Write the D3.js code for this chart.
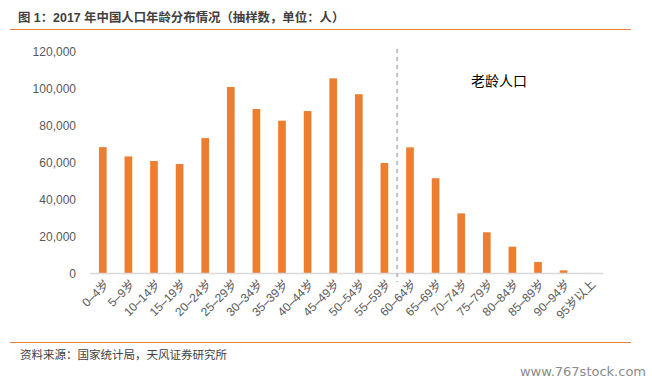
<!DOCTYPE html>
<html>
<head>
<meta charset="utf-8">
<script src="https://cdn.jsdelivr.net/npm/d3@7"></script>
<style>
  body { margin: 0; background: #fff; }
  text { font-family: "Liberation Sans", "Noto Sans CJK SC", sans-serif; }
</style>
</head>
<body>
<svg id="chart" width="652" height="381"></svg>
<script>
// age groups and sample counts (persons)
var ageGroups = ["0–4岁", "5–9岁", "10–14岁", "15–19岁", "20–24岁", "25–29岁", "30–34岁",
  "35–39岁", "40–44岁", "45–49岁", "50–54岁", "55–59岁", "60–64岁", "65–69岁", "70–74岁",
  "75–79岁", "80–84岁", "85–89岁", "90–94岁", "95岁以上"];
var population = [68300, 63300, 60800, 59200, 73200, 100800, 88900, 82600, 87800, 105500,
  96900, 59700, 68200, 51500, 32500, 22300, 14500, 6200, 1700, 300];
var yTicks = [0, 20000, 40000, 60000, 80000, 100000, 120000];
var title = "图 1：2017 年中国人口年龄分布情况（抽样数，单位：人）";
var source = "资料来源：国家统计局，天风证券研究所";
var agedLabel = "老龄人口";
var agedStart = "60–64岁";

var svg = d3.select("#chart");
var orange = "#ED7D31";

var x = d3.scaleBand().domain(ageGroups).range([90, 602]).paddingInner(0.7).paddingOuter(0.35);
var y = d3.scaleLinear().domain([0, 120000]).range([273.5, 51.5]);

// header
svg.append("text")
    .attr("x", 18).attr("y", 22)
    .style("font-size", "12.4px").style("font-weight", "bold")
    .attr("fill", "#3f3f3f")
    .text(title);
svg.append("line")
    .attr("x1", 10).attr("x2", 631).attr("y1", 29.5).attr("y2", 29.5)
    .attr("stroke", orange).attr("stroke-width", 1.2);

// y labels
svg.selectAll(".ylab")
    .data(yTicks)
    .enter().append("text")
    .attr("class", "ylab")
    .attr("x", 76).attr("y", d => y(d))
    .attr("dy", "0.35em")
    .attr("text-anchor", "end")
    .style("font-size", "12px")
    .attr("fill", "#595959")
    .text(d3.format(","));

// bars
svg.selectAll(".bar")
    .data(population)
    .enter().append("rect")
    .attr("class", "bar")
    .attr("x", (d, i) => x(ageGroups[i]))
    .attr("y", d => y(d))
    .attr("width", x.bandwidth())
    .attr("height", d => y(0) - y(d))
    .attr("fill", orange);

// baseline
svg.append("line")
    .attr("x1", 90).attr("x2", 603).attr("y1", y(0)).attr("y2", y(0))
    .attr("stroke", "#d9d9d9").attr("stroke-width", 1.5);

// x labels
svg.selectAll(".xlab")
    .data(ageGroups)
    .enter().append("text")
    .attr("class", "xlab")
    .attr("transform", d => "translate(" + (x(d) + x.bandwidth() / 2 + 4) + ",282) rotate(-45)")
    .attr("text-anchor", "end")
    .attr("dy", "0.35em")
    .style("font-size", "12px")
    .attr("fill", "#595959")
    .text(d => d);

// divider between working age and aged population
var divX = x(agedStart) - (x.step() - x.bandwidth()) / 2;
svg.append("line")
    .attr("x1", divX).attr("x2", divX).attr("y1", 49).attr("y2", 282)
    .attr("stroke", "#bfbfbf").attr("stroke-width", 2)
    .attr("stroke-dasharray", "4,4");

svg.append("text")
    .attr("x", 499).attr("y", 81)
    .attr("dy", "0.35em")
    .attr("text-anchor", "middle")
    .style("font-size", "14px")
    .attr("fill", "#000")
    .text(agedLabel);

// footer
svg.append("line")
    .attr("x1", 10).attr("x2", 631).attr("y1", 342.5).attr("y2", 342.5)
    .attr("stroke", orange).attr("stroke-width", 1.2);
svg.append("text")
    .attr("x", 20).attr("y", 355)
    .attr("dy", "0.35em")
    .style("font-size", "11.5px")
    .attr("fill", "#404040")
    .text(source);
svg.append("text")
    .attr("x", 646).attr("y", 371)
    .attr("dy", "0.35em")
    .attr("text-anchor", "end")
    .style("font-family", "'DejaVu Sans', sans-serif")
    .style("font-size", "13px")
    .attr("fill", "#8a8a8a")
    .text("www.767stock.com");
</script>
</body>
</html>
